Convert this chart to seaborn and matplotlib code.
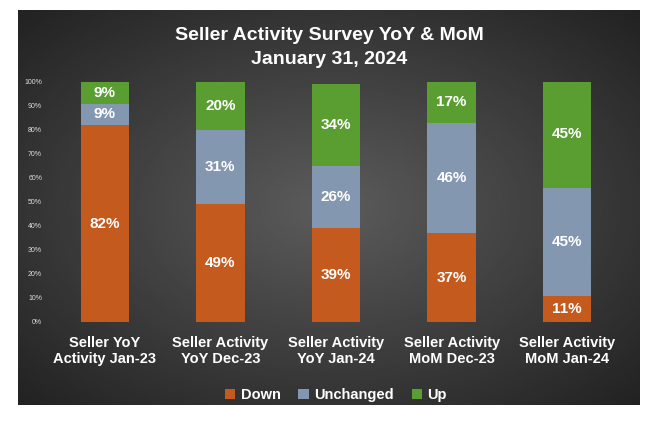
import numpy as np
import pandas as pd
import matplotlib.pyplot as plt
import seaborn as sns

categories = ["Seller YoY\nActivity Jan-23", "Seller Activity\nYoY Dec-23", "Seller Activity\nYoY Jan-24",
              "Seller Activity\nMoM Dec-23", "Seller Activity\nMoM Jan-24"]
down = [82, 49, 39, 37, 11]
unchanged = [9, 31, 26, 46, 45]
up = [9, 20, 34, 17, 45]
colors = {"Down": "#C55A1E", "Unchanged": "#8497B0", "Up": "#5A9E32"}

sns.set_style("white")
plt.rcParams["font.family"] = ["Liberation Sans", "DejaVu Sans"]

fig = plt.figure(figsize=(6.59, 4.24), dpi=100)
fig.patch.set_facecolor("white")

# dark radial-gradient panel
bg = fig.add_axes([18 / 659, 1 - 405 / 424, (640 - 18) / 659, (405 - 10) / 424])
yy, xx = np.mgrid[-1:1:200j, -1:1:300j]
r = np.sqrt(xx ** 2 + yy ** 2)
bg.imshow(0.36 - 0.16 * r, cmap="gray", vmin=0, vmax=1, aspect="auto", extent=[0, 1, 0, 1])
bg.axis("off")

ax = fig.add_axes([47 / 659, 1 - 322 / 424, (625 - 47) / 659, (322 - 82) / 424])
ax.patch.set_alpha(0)
df = pd.DataFrame({"cat": categories, "Down": down, "Unchanged": unchanged, "Up": up})
bottom = np.zeros(len(df))
for name in ["Down", "Unchanged", "Up"]:
    sns.barplot(data=df, x="cat", y=name, color=colors[name], width=0.42, bottom=bottom,
                ax=ax, saturation=1, label=name, edgecolor="none", linewidth=0)
    for i, v in enumerate(df[name]):
        ax.text(i, bottom[i] + v / 2, f"{v}%", ha="center", va="center", color="white",
                fontsize=11, fontweight="bold")
    bottom = bottom + df[name].values

ax.set_ylim(0, 100)
ax.set_yticks(range(0, 101, 10))
ax.set_yticklabels([f"{v}%" for v in range(0, 101, 10)], color="#dddddd", fontsize=5)
ax.set_xlabel("")
ax.set_ylabel("")
ax.tick_params(axis="x", colors="white", labelsize=10.5, length=0, pad=10)
ax.tick_params(axis="y", length=0)
for lbl in ax.get_xticklabels():
    lbl.set_fontweight("bold")
for s in ax.spines.values():
    s.set_visible(False)

leg = ax.legend(loc="upper center", bbox_to_anchor=(0.5, -0.22), ncol=3, frameon=False,
                fontsize=10.5, handlelength=0.7, handleheight=0.7, columnspacing=1.2,
                handletextpad=0.4)
for t in leg.get_texts():
    t.set_color("white")
    t.set_fontweight("bold")

fig.text(0.5, 1 - 36 / 424, "Seller Activity Survey YoY & MoM", ha="center", va="center",
         color="white", fontsize=14, fontweight="bold")
fig.text(0.5, 1 - 60 / 424, "January 31, 2024", ha="center", va="center",
         color="white", fontsize=14, fontweight="bold")

fig.savefig("out.png", dpi=100)
